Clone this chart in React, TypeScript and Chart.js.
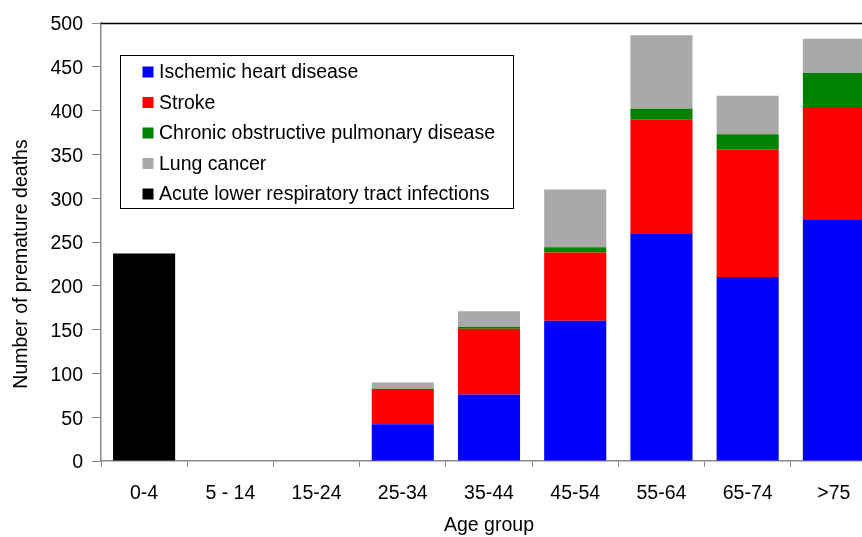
import React, { useEffect, useRef } from "react";
import { Chart, registerables } from "chart.js";

Chart.register(...registerables);

const categories = ["0-4", "5 - 14", "15-24", "25-34", "35-44", "45-54", "55-64", "65-74", ">75"];
const ischemic = [null, null, null, 42, 76, 160, 260, 210, 276];
const stroke = [null, null, null, 39, 75, 78, 130, 146, 128];
const copd = [null, null, null, 1.5, 2, 6, 12, 17, 39];
const lungCancer = [null, null, null, 7, 18, 66, 84, 44, 39];
const acuteLri = [237, null, null, null, null, null, null, null, null];
const yTicks = [0, 50, 100, 150, 200, 250, 300, 350, 400, 450, 500];

const FONT = '"Liberation Sans", Arial, sans-serif';
const FS = 19.5;

const decorPlugin = {
  id: "decor",
  afterDraw(chart: any) {
    const ctx = chart.ctx;
    const area = chart.chartArea;
    ctx.save();
    // plot area top border
    ctx.strokeStyle = "#000";
    ctx.lineWidth = 1.5;
    ctx.beginPath();
    ctx.moveTo(area.left, area.top + 0.5);
    ctx.lineTo(area.right, area.top + 0.5);
    ctx.moveTo(area.right - 0.5, area.top);
    ctx.lineTo(area.right - 0.5, area.bottom);
    ctx.stroke();

    // legend box
    const bx = 120.5, by = 55.5, bw = 393, bh = 153;
    ctx.fillStyle = "#fff";
    ctx.fillRect(bx, by, bw, bh);
    ctx.strokeStyle = "#000";
    ctx.lineWidth = 1;
    ctx.strokeRect(bx, by, bw, bh);
    ctx.font = `${FS}px ${FONT}`;
    ctx.textBaseline = "middle";
    ctx.textAlign = "left";
    chart.data.datasets.forEach((ds: any, i: number) => {
      const cy = 72 + i * 30.5;
      ctx.fillStyle = ds.backgroundColor;
      ctx.fillRect(142.5, cy - 5.5, 11, 11);
      ctx.fillStyle = "#000";
      ctx.fillText(ds.label, 159, cy + 1);
    });

    // axis titles
    ctx.fillStyle = "#000";
    ctx.font = `${FS}px ${FONT}`;
    ctx.textAlign = "center";
    ctx.textBaseline = "alphabetic";
    ctx.fillText("Age group", 489, 531);
    ctx.save();
    ctx.translate(27, 264);
    ctx.rotate(-Math.PI / 2);
    ctx.fillText("Number of premature deaths", 0, 0);
    ctx.restore();
    ctx.restore();
  },
};

export default function App() {
  const ref = useRef<HTMLCanvasElement | null>(null);
  useEffect(() => {
    if (!ref.current) return;
    const chart = new Chart(ref.current, {
      type: "bar",
      data: {
        labels: categories,
        datasets: [
          { label: "Ischemic heart disease", data: ischemic, backgroundColor: "#0000ff" },
          { label: "Stroke", data: stroke, backgroundColor: "#ff0000" },
          { label: "Chronic obstructive pulmonary disease", data: copd, backgroundColor: "#008000" },
          { label: "Lung cancer", data: lungCancer, backgroundColor: "#a9a9a9" },
          { label: "Acute lower respiratory tract infections", data: acuteLri, backgroundColor: "#000000" },
        ],
      },
      options: {
        responsive: false,
        animation: false,
        layout: { padding: { top: 23, right: 3, left: 0, bottom: 0 } },
        datasets: { bar: { barPercentage: 0.72, categoryPercentage: 1, borderWidth: 0 } },
        plugins: { legend: { display: false }, tooltip: { enabled: false }, title: { display: false } },
        scales: {
          x: {
            stacked: true,
            grid: { drawOnChartArea: false, drawTicks: true, tickLength: 6, color: "#888", offset: true },
            border: { color: "#888", width: 1.5 },
            ticks: { color: "#000", font: { family: FONT, size: FS }, padding: 15, maxRotation: 0, autoSkip: false },
            afterFit: (s: any) => { s.height = 76; },
          },
          y: {
            stacked: true,
            min: 0,
            max: 500,
            afterBuildTicks: (s: any) => { s.ticks = yTicks.map((v) => ({ value: v })); },
            grid: { drawOnChartArea: false, drawTicks: true, tickLength: 9, color: "#888" },
            border: { color: "#888", width: 1.5 },
            ticks: { color: "#000", font: { family: FONT, size: FS }, padding: 9, labelOffset: 2 },
            afterFit: (s: any) => { s.width = 101; },
          },
        },
      },
      plugins: [decorPlugin],
    } as any);
    return () => chart.destroy();
  }, []);
  return (
    <div style={{ position: "fixed", left: 0, top: 0, width: 862, height: 537, overflow: "hidden", background: "#fff" }}>
      <canvas ref={ref} width={880} height={537} style={{ display: "block" }} />
    </div>
  );
}
